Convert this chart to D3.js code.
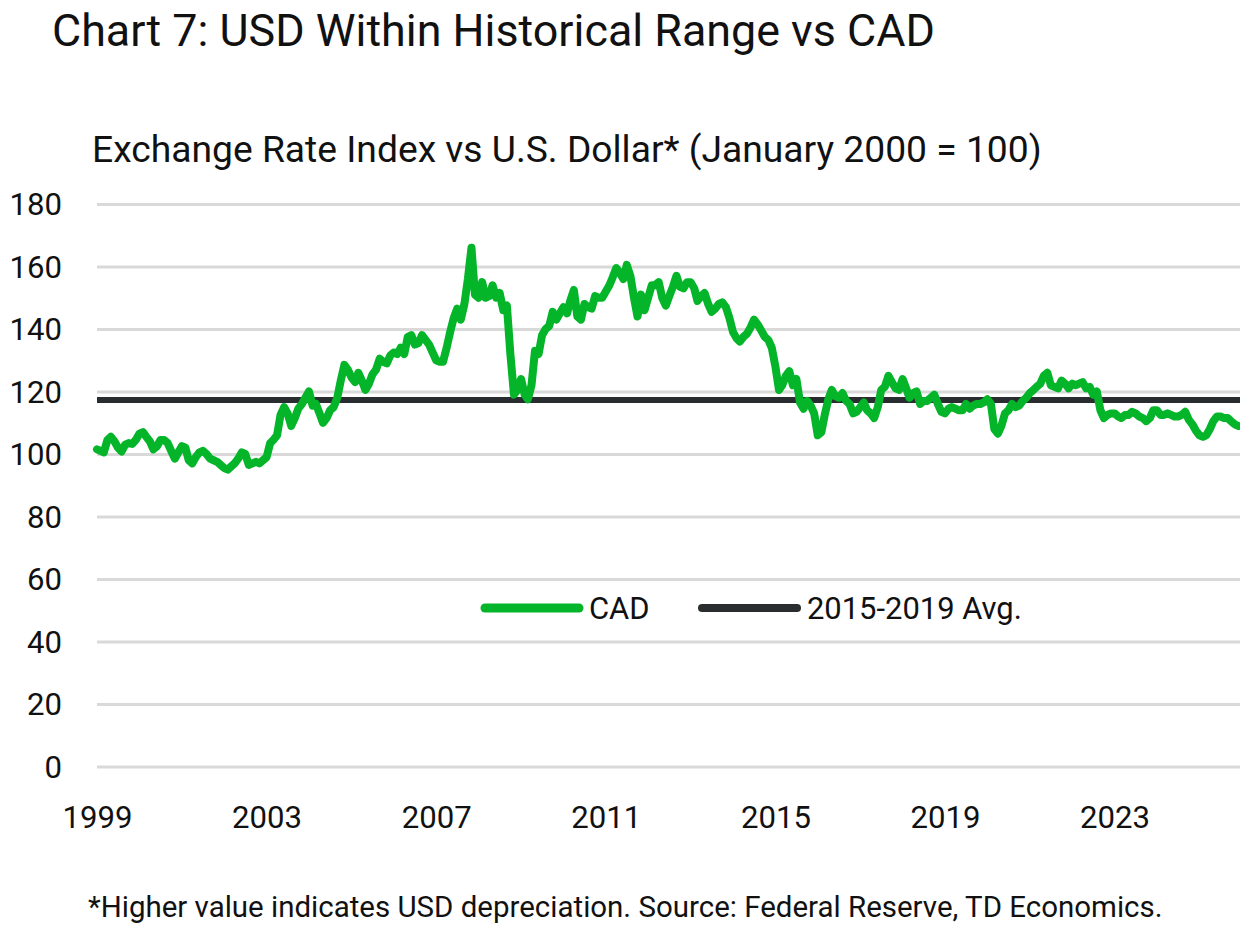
<!DOCTYPE html>
<html>
<head>
<meta charset="utf-8">
<script src="https://cdn.jsdelivr.net/npm/d3@7"></script>
<style>
  html, body { margin: 0; padding: 0; background: #ffffff; }
  svg { display: block; }
  text { font-family: Roboto, "Noto Sans", sans-serif; fill: #111111; }
</style>
</head>
<body>
<svg id="chart" width="1240" height="925"></svg>
<script>
// ---------------- DATA ----------------
const titleText = "Chart 7: USD Within Historical Range vs CAD";
const subtitleText = "Exchange Rate Index vs U.S. Dollar* (January 2000 = 100)";
const footnoteText = "*Higher value indicates USD depreciation. Source: Federal Reserve, TD Economics.";

const cadStartMonth = "1999-01";
// Monthly CAD index values, Jan 1999 .. Dec 2025
const cadValues = [
  101.5,101,100.5,104.5,105.5,104,102,100.8,103,103.5,103.2,104.5,   // 1999
  106.5,107,105.5,104,101.5,102.5,104.5,104.5,103.5,101,98.5,100.5,  // 2000
  102.5,102,98,97,99,100.5,101,100,98.5,98,97.5,96.5,                // 2001
  95.5,95,96,97,98.5,100.5,100,96.5,97,97.5,97,98,                   // 2002
  99,103.5,104.5,106,112.5,115,113,109,111.5,114.5,116,118,          // 2003
  120,115.5,116,113,110,111.5,114,115,118,123.5,128.5,127,           // 2004
  124.5,123,126,123.5,120.5,122.5,125.5,127,130.5,129.5,129,131.5,   // 2005
  132.5,132,134,132,137.5,138,135,135.5,138,136.5,135,132.5,         // 2006
  130,129.5,129.5,134,139,143.5,146.5,143,148,156,166,151,           // 2007
  150,155,150,150.5,154,150,151.5,146,147.5,132,119,120.5,           // 2008
  124,119,117.5,122,133,132,138,140,141,145.5,143,145,               // 2009
  147,145,149,152.5,144,143,148,147,146.5,150.5,150,150,             // 2010
  152,154,156.5,159.5,158,156,160.5,157,150,144,151,146,             // 2011
  150,154,154,155,150,147.5,150.5,153.5,157,153.5,153,155,           // 2012
  155,153,149,150.5,151.5,148,145.5,146.5,148,148.5,147,143.5,       // 2013
  139,137,136,137.5,138.5,140.5,143,141.5,139.5,137.5,136.5,134,     // 2014
  128,120.5,122,125,126.5,122,124,116.5,114.5,117,115.5,113,         // 2015
  106,107,112.5,117.5,120.5,118.5,118,119.5,117,116,113,113.5,       // 2016
  115,116.5,114,113,111.5,115,120.5,121.5,125,123,121,120.5,         // 2017
  124,121,118,119.5,120,116,117,117,118,119,116,113.5,               // 2018
  113,114.5,115,114.5,114,114,116,114.5,115.5,116,116,116.5,         // 2019
  117.5,116,108,106.5,109,113,114,116,115,115.5,117,118,             // 2020
  119.5,120.5,121.5,122.5,125,126,122,121.5,121,123.5,122.5,121,     // 2021
  122.5,122,122.5,123,121,121.5,119,120,114,111.5,112.5,113,         // 2022
  113,112,111.5,112.5,112.5,113.5,113,112,111.5,110.5,111.5,114,     // 2023
  114,112.5,112.5,113,112.5,112,112,112.5,113.5,111,109.5,107.5,     // 2024
  106,105.5,106,108,110.5,112,112,111.5,111.5,110.5,109.5,109        // 2025
];

const avgValue = 117.3;               // 2015-2019 average
const yTickValues = [0,20,40,60,80,100,120,140,160,180];
const xTickYears = [1999,2003,2007,2011,2015,2019,2023];
const legendLabels = ["CAD", "2015-2019 Avg."];
const xDomainYears = [1999, 2026];

// ---------------- STYLE ----------------
const W = 1240, H = 925;
const greenColor = "#04b52a";
const avgColor = "#2a2d30";
const gridColor = "#d9d9d9";

const svg = d3.select("#chart");
svg.append("rect").attr("width", W).attr("height", H).attr("fill", "#ffffff");

const parseMonth = d3.timeParse("%Y-%m");
const start = parseMonth(cadStartMonth);
const cadData = cadValues.map((v, i) => ({ date: d3.timeMonth.offset(start, i), value: v }));

const x = d3.scaleTime()
  .domain([new Date(xDomainYears[0], 0, 1), new Date(xDomainYears[1], 0, 1)])
  .range([97, 1241.8]);
const y = d3.scaleLinear().domain([0, 180]).range([766.5, 204]);

function fit(sel, target) {
  const fs = parseFloat(sel.attr("font-size"));
  const w = sel.node().getComputedTextLength();
  if (w > 0) sel.attr("font-size", fs * target / w);
  return sel;
}

// Gridlines (y axis)
const yAxis = d3.axisLeft(y).tickValues(yTickValues).tickSize(-(W - 97)).tickFormat(d3.format("d"));
const gy = svg.append("g").attr("transform", "translate(97,0)").call(yAxis);
gy.select(".domain").remove();
gy.selectAll(".tick line").attr("stroke", gridColor).attr("stroke-width", 3);
gy.selectAll(".tick text")
  .attr("x", -35).attr("dy", "0.35em")
  .attr("font-size", 30)
  .attr("font-family", "Roboto, sans-serif")
  .attr("fill", "#111")
  .attr("text-anchor", "end");

// X axis labels
const xAxis = d3.axisBottom(x)
  .tickValues(xTickYears.map(yr => new Date(yr, 0, 1)))
  .tickSize(0)
  .tickFormat(d3.timeFormat("%Y"));
const gx = svg.append("g").attr("transform", "translate(0,800)").call(xAxis);
gx.select(".domain").remove();
gx.selectAll(".tick text")
  .attr("y", 0).attr("dy", "0.9em")
  .attr("font-size", 30)
  .attr("font-family", "Roboto, sans-serif")
  .attr("fill", "#111");

// fit tick font sizes to reference widths
{
  const t = gx.selectAll(".tick text").filter((d, i) => i === 0);
  const w = t.node().getComputedTextLength();
  const fs = 30 * 70 / w;
  gx.selectAll(".tick text").attr("font-size", fs);
  gy.selectAll(".tick text").attr("font-size", fs);
}

// Average line
svg.append("line")
  .attr("x1", 97).attr("x2", W)
  .attr("y1", y(avgValue)).attr("y2", y(avgValue))
  .attr("stroke", avgColor).attr("stroke-width", 6);

// CAD line
const line = d3.line().x(d => x(d.date)).y(d => y(d.value)).curve(d3.curveLinear);
svg.append("path")
  .datum(cadData)
  .attr("d", line)
  .attr("fill", "none")
  .attr("stroke", greenColor)
  .attr("stroke-width", 8)
  .attr("stroke-linejoin", "round")
  .attr("stroke-linecap", "round");

// Legend
const legY = 608;
const leg = svg.append("g");
leg.append("line").attr("x1", 485).attr("x2", 579).attr("y1", legY).attr("y2", legY)
  .attr("stroke", greenColor).attr("stroke-width", 9).attr("stroke-linecap", "round");
const l1 = leg.append("text").attr("x", 589).attr("y", legY).attr("dy", "0.36em")
  .attr("font-size", 30).text(legendLabels[0]);
leg.append("line").attr("x1", 702).attr("x2", 797).attr("y1", legY).attr("y2", legY)
  .attr("stroke", avgColor).attr("stroke-width", 8).attr("stroke-linecap", "round");
const l2 = leg.append("text").attr("x", 807).attr("y", legY).attr("dy", "0.36em")
  .attr("font-size", 30).text(legendLabels[1]);
fit(l2, 215);
l1.attr("font-size", l2.attr("font-size"));

// Titles
const t1 = svg.append("text").attr("x", 52).attr("y", 46).attr("font-size", 40).text(titleText);
fit(t1, 883);
const t2 = svg.append("text").attr("x", 92).attr("y", 162).attr("font-size", 32).text(subtitleText);
fit(t2, 950);
const t3 = svg.append("text").attr("x", 88).attr("y", 917).attr("font-size", 26).text(footnoteText);
fit(t3, 1075);
</script>
</body>
</html>
